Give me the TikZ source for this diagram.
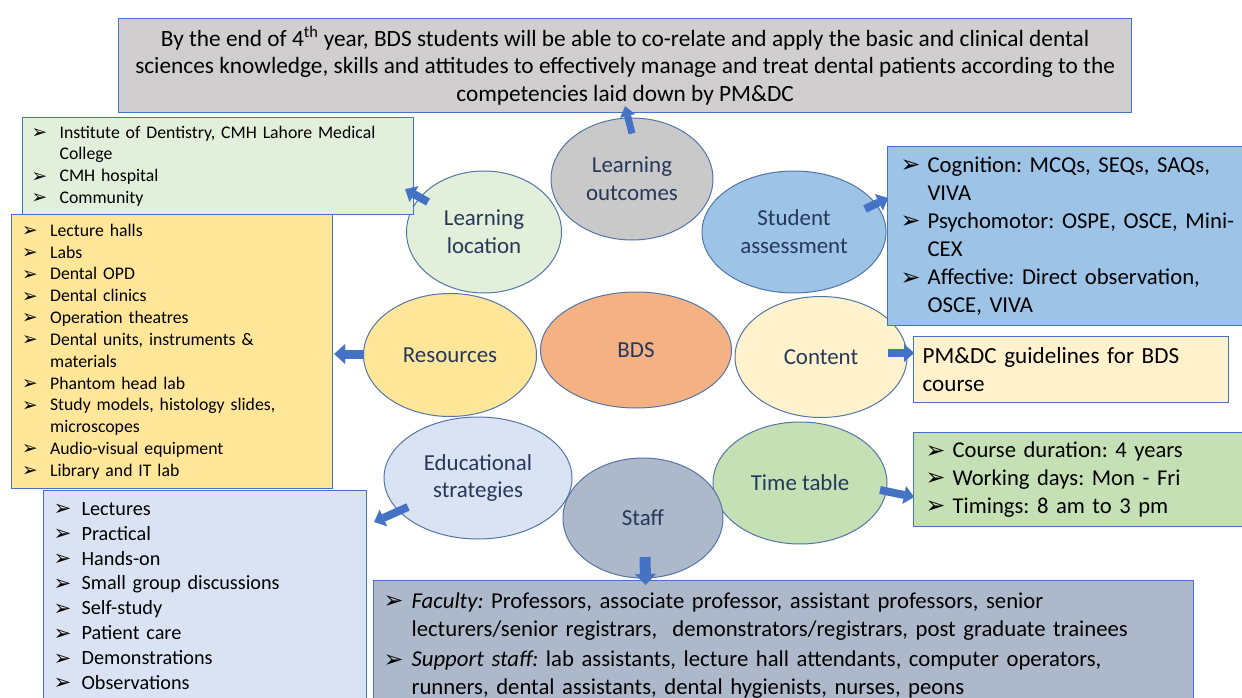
\documentclass[tikz,border=0pt]{standalone}
\usepackage{fontspec}
\setmainfont{Carlito}
\newfontfamily\dvfont{DejaVu Sans}
\usetikzlibrary{shapes.geometric,arrows.meta,calc}
\definecolor{topgray}{HTML}{D0CECE}
\definecolor{locgreen}{HTML}{E2EFDA}
\definecolor{resyellow}{HTML}{FFE699}
\definecolor{edublue}{HTML}{DAE3F3}
\definecolor{staffgray}{HTML}{ADB9CA}
\definecolor{assessblue}{HTML}{9DC3E6}
\definecolor{contentcream}{HTML}{FFF2CC}
\definecolor{ttgreen}{HTML}{C5E0B4}
\definecolor{logray}{HTML}{C9C9C9}
\definecolor{bdsorange}{HTML}{F4B183}
\definecolor{ellborder}{HTML}{5575A8}
\definecolor{elltext}{HTML}{263859}
\definecolor{boxborder}{HTML}{4472C4}
\definecolor{arrowblue}{HTML}{4472C4}
\newlength\hangw
\newcommand{\bul}{\raisebox{-0.02em}{\dvfont\scalebox{1.05}{➢}}}
\newcommand{\fitem}[1]{\noindent\hangindent=\hangw\hangafter=1\makebox[\hangw][l]{\bul}#1}
\newcommand{\bitem}[1]{\par\fitem{#1}}
\frenchspacing
\tikzset{
  ell/.style={ellipse, draw=ellborder, line width=1bp, inner sep=0pt, text=elltext,
    font=\fontsize{23}{28}\selectfont, align=center},
  box/.style={rectangle, draw=boxborder, line width=1.2bp, anchor=north west, inner ysep=0pt},
  barrow/.style={draw=arrowblue, line width=8bp, -{Triangle[width=18bp,length=10bp,line width=0.2bp]}},
}
\begin{document}
\begin{tikzpicture}[x=1bp,y=-1bp]
\clip (0,0) rectangle (1242,698);
\fill[white] (0,0) rectangle (1242,698);
% ellipses
\node[ell, fill=logray, minimum width=162bp, minimum height=122bp] (lo) at (632,179) {Learning\\outcomes};
\node[ell, fill=locgreen, minimum width=155bp, minimum height=122bp] (loc) at (484,232) {Learning\\location};
\node[ell, fill=assessblue, minimum width=184bp, minimum height=122bp] (sa) at (794,232) {Student\\assessment};
\node[ell, fill=resyellow, minimum width=173bp, minimum height=123bp] (res) at (450,355) {Resources};
\node[ell, fill=bdsorange, minimum width=191bp, minimum height=116bp] (bds) at (636,350) {BDS};
\node[ell, fill=contentcream, minimum width=172bp, minimum height=121bp] (con) at (821,357) {Content};
\node[ell, fill=edublue, minimum width=188bp, minimum height=122bp] (edu) at (478,478) {Educational\\strategies};
\node[ell, fill=ttgreen, minimum width=174bp, minimum height=122bp] (tt) at (800,483) {Time table};
\node[ell, fill=staffgray, minimum width=160bp, minimum height=120bp] (staff) at (643,518) {Staff};
% boxes
\node[box, fill=topgray, minimum width=1013bp, minimum height=94bp, align=center,
  font=\fontsize{23.4}{27.6}\selectfont] (top) at (118,18)
  {By the end of 4\textsuperscript{th} year, BDS students will be able to co-relate and apply the basic and clinical dental\\
   sciences knowledge, skills and attitudes to effectively manage and treat dental patients according to the\\
   competencies laid down by PM\&DC};
\node[box, fill=locgreen, minimum width=391bp, minimum height=97bp, inner xsep=9bp, text width=373bp,
  font=\fontsize{17.8}{21.9}\selectfont] (locbox) at (22,117)
  {\setlength\hangw{28bp}\fitem{Institute of Dentistry, CMH Lahore Medical\newline College}\bitem{CMH hospital}\bitem{Community}\par};
\node[box, fill=resyellow, minimum width=321bp, minimum height=274bp, inner xsep=10.5bp, text width=300bp,
  font=\fontsize{17.8}{21.9}\selectfont] (resbox) at (11,214)
  {\setlength\hangw{28bp}\fitem{Lecture halls}\bitem{Labs}\bitem{Dental OPD}\bitem{Dental clinics}\bitem{Operation theatres}%
   \bitem{Dental units, instruments \&\newline materials}\bitem{Phantom head lab}\bitem{Study models, histology slides,\newline microscopes}%
   \bitem{Audio-visual equipment}\bitem{Library and IT lab}\par};
\node[box, fill=edublue, minimum width=323bp, minimum height=211bp, inner xsep=10bp, text width=303bp,
  font=\fontsize{20.3}{25}\selectfont] (edubox) at (43,490)
  {\setlength\hangw{28bp}\fitem{Lectures}\bitem{Practical}\bitem{Hands-on}\bitem{Small group discussions}\bitem{Self-study}%
   \bitem{Patient care}\bitem{Demonstrations}\bitem{Observations}\par};
\node[box, fill=staffgray, minimum width=820bp, minimum height=130bp, inner xsep=10bp, text width=800bp,
  font=\fontsize{22.8}{27.8}\selectfont] (staffbox) at (373,580)
  {\setlength\hangw{28bp}\setlength\parskip{3bp}\fitem{\textit{Faculty:} Professors, associate professor, assistant professors, senior\newline lecturers/senior registrars,\ \ demonstrators/registrars, post graduate trainees}%
   \bitem{\textit{Support staff:} lab assistants, lecture hall attendants, computer operators,\newline runners, dental assistants, dental hygienists, nurses, peons}\par};
\node[box, fill=assessblue, minimum width=360bp, minimum height=179bp, inner xsep=13bp, text width=334bp,
  font=\fontsize{22.8}{28.2}\selectfont] (sabox) at (887,146)
  {\setlength\hangw{27bp}\fitem{Cognition: MCQs, SEQs, SAQs,\newline VIVA}\bitem{Psychomotor: OSPE, OSCE, Mini-\newline CEX}\bitem{Affective: Direct observation,\newline OSCE, VIVA}\par};
\node[box, fill=contentcream, minimum width=315bp, minimum height=66bp, inner xsep=9bp, text width=297bp,
  font=\fontsize{23.2}{28}\selectfont, align=left] (conbox) at (913,336)
  {PM\&DC guidelines for BDS\\course};
\node[box, fill=ttgreen, minimum width=335bp, minimum height=94bp, inner xsep=12bp, text width=311bp,
  font=\fontsize{22.7}{28}\selectfont] (ttbox) at (913,432)
  {\setlength\hangw{27bp}\fitem{Course duration: 4 years}\bitem{Working days: Mon - Fri}\bitem{Timings: 8 am to 3 pm}\par};
% arrows
\draw[barrow, line width=7bp, -{Triangle[width=15bp,length=10bp,line width=0.2bp]}] ($(lo.north)+(0,16)$) -- ($(top.south)+(0,-7)$);
\draw[barrow] ($(loc.center)+(-56,-30)$) -- ($(locbox.south east)+(-9,-26)$);
\draw[barrow] ($(sa.center)+(71,-23)$) -- ($(sabox.north west)+(1,52)$);
\draw[barrow, line width=9bp, -{Triangle[width=20bp,length=11bp,line width=0.2bp]}] ($(res.west)+(1,-1)$) -- ($(resbox.east |- res.west)+(1,-1)$);
\draw[barrow] ($(con.east)+(-20,-4)$) -- ($(conbox.west |- con.east)+(1,-4)$);
\draw[barrow] ($(tt.center)+(80,7)$) -- ($(ttbox.north west)+(1,65)$);
\draw[barrow] ($(edu.center)+(-70,29)$) -- ($(edubox.north east)+(7,32)$);
\draw[barrow, line width=11bp, -{Triangle[width=21bp,length=11bp,line width=0.2bp]}] ($(staff.center)+(2,39)$) -- ($(staffbox.north)+(-138,5)$);
\end{tikzpicture}
\end{document}
